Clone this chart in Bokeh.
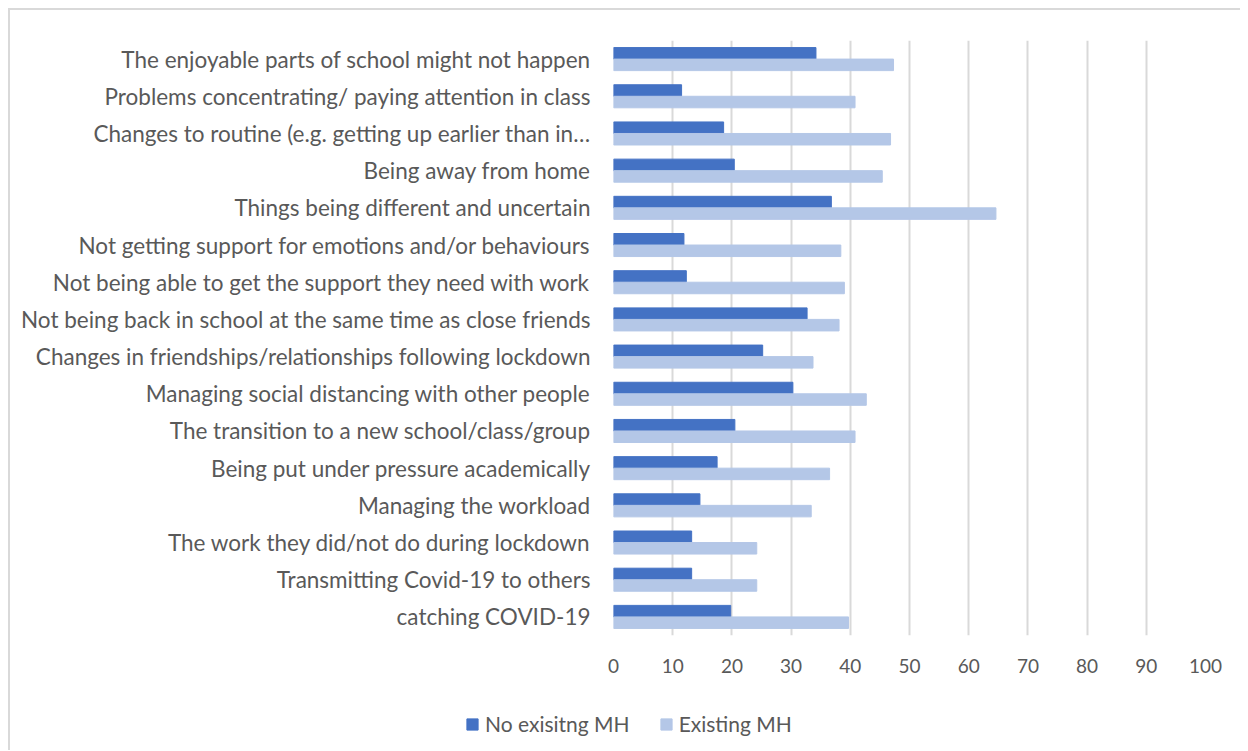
from bokeh.plotting import figure
from bokeh.layouts import column
from bokeh.models import FactorRange, Range1d, FixedTicker, Legend, LegendItem, ColumnDataSource
from bokeh.transform import dodge
from bokeh.embed import file_html
from bokeh.resources import INLINE

categories = [
    "The enjoyable parts of school might not happen",
    "Problems concentrating/ paying attention in class",
    "Changes to routine (e.g. getting up earlier than in\u2026",
    "Being away from home",
    "Things being different and uncertain",
    "Not getting support for emotions and/or behaviours",
    "Not being able to get the support they need with work",
    "Not being back in school at the same time as close friends",
    "Changes in friendships/relationships following lockdown",
    "Managing social distancing with other people",
    "The transition to a new school/class/group",
    "Being put under pressure academically",
    "Managing the workload",
    "The work they did/not do during lockdown",
    "Transmitting Covid-19 to others",
    "catching COVID-19",
]
no_existing_mh = [34.2, 11.5, 18.6, 20.4, 36.8, 11.9, 12.3, 32.7, 25.2, 30.3, 20.5, 17.5, 14.6, 13.2, 13.2, 19.8]
existing_mh = [47.3, 40.8, 46.8, 45.4, 64.6, 38.4, 39.0, 38.1, 33.7, 42.7, 40.8, 36.5, 33.4, 24.2, 24.2, 39.7]
x_ticks = [0, 10, 20, 30, 40, 50, 60, 70, 80, 90, 100]
series_names = ["No exisitng MH", "Existing MH"]
series_colors = ["#4472C4", "#B4C7E7"]

FONT = "Lato"
TXT = "#595959"

src = ColumnDataSource(dict(cat=categories, a=no_existing_mh, b=existing_mh))

p = figure(
    frame_width=592, frame_height=595,
    y_range=FactorRange(factors=list(reversed(categories))),
    x_range=Range1d(0, 100),
    output_backend="svg", toolbar_location=None,
    min_border_left=603, min_border_right=35, min_border_top=30, min_border_bottom=45,
)
p.outline_line_color = None
p.background_fill_color = "white"
p.border_fill_color = "white"

p.hbar(y=dodge("cat", 0.155, range=p.y_range), right="a", left=0, height=0.31,
       source=src, color=series_colors[0])
p.hbar(y=dodge("cat", -0.155, range=p.y_range), right="b", left=0, height=0.31,
       source=src, color=series_colors[1])

p.xgrid.ticker = FixedTicker(ticks=x_ticks)
p.xgrid.grid_line_color = "#d9d9d9"
p.xgrid.grid_line_width = 2
p.ygrid.grid_line_color = None
p.xgrid.level = "underlay"

xa = p.xaxis[0]
xa.ticker = FixedTicker(ticks=x_ticks)
xa.axis_line_color = None
xa.major_tick_line_color = None
xa.minor_tick_line_color = None
xa.major_label_text_font = FONT
xa.major_label_text_font_size = "19px"
xa.major_label_text_color = TXT
xa.major_label_standoff = 17

ya = p.yaxis[0]
ya.axis_line_color = None
ya.major_tick_line_color = None
ya.minor_tick_line_color = None
ya.major_label_text_font = FONT
ya.major_label_text_font_size = "22.5px"
ya.major_label_text_color = TXT
ya.major_label_standoff = 17

# legend strip below the chart (proxy renderers lie outside the visible range)
lf = figure(frame_width=1230, frame_height=70, x_range=Range1d(0, 1), y_range=Range1d(0, 1),
            x_axis_type=None, y_axis_type=None, output_backend="svg", toolbar_location=None,
            min_border=0)
lf.outline_line_color = None
lf.grid.visible = False
lf.background_fill_color = "white"
lf.border_fill_color = "white"
proxy = ColumnDataSource(dict(y=[5], left=[5], right=[6]))
k1 = lf.hbar(y="y", right="right", left="left", height=0.3, source=proxy, color=series_colors[0])
k2 = lf.hbar(y="y", right="right", left="left", height=0.3, source=proxy, color=series_colors[1])

legend = Legend(items=[LegendItem(label=series_names[0], renderers=[k1]),
                       LegendItem(label=series_names[1], renderers=[k2])],
                orientation="horizontal", location=(455, 14),
                label_text_font=FONT, label_text_font_size="21px", label_text_color=TXT,
                glyph_width=14, glyph_height=14, spacing=29, label_standoff=6,
                border_line_color=None, background_fill_alpha=0, padding=4, margin=0)
lf.add_layout(legend, "center")

layout = column(p, lf, spacing=0,
                styles={"border-left": "2px solid #d9d9d9", "border-top": "2px solid #d9d9d9",
                        "margin-left": "8px", "margin-top": "8px"})

open("out.html", "w").write(file_html(layout, INLINE))
